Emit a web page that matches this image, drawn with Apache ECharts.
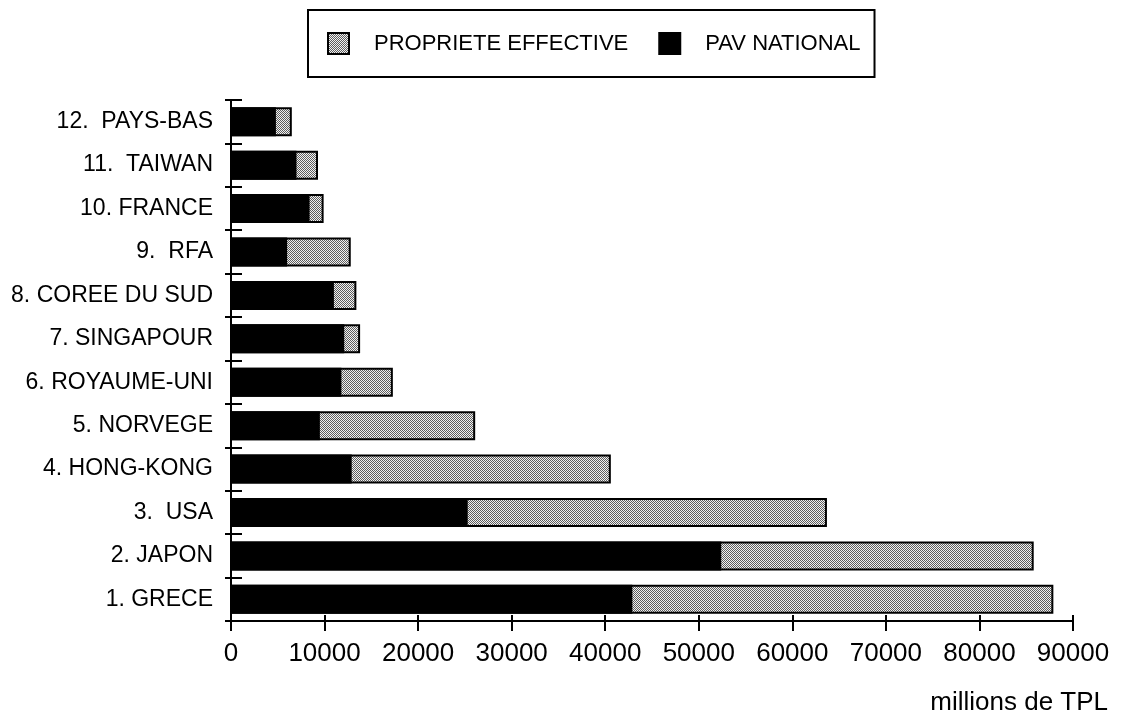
<!DOCTYPE html>
<html>
<head>
<meta charset="utf-8">
<script src="https://cdn.jsdelivr.net/npm/echarts@6/dist/echarts.min.js"></script>
<style>
  html, body { margin: 0; padding: 0; background: #fff; }
  #chart { width: 1123px; height: 718px; }
</style>
</head>
<body>
<div id="chart"></div>
<script>
// Fleets by country, bottom (1) to top (12)
const countries = [
  '1. GRECE', '2. JAPON', '3.  USA', '4. HONG-KONG', '5. NORVEGE',
  '6. ROYAUME-UNI', '7. SINGAPOUR', '8. COREE DU SUD', '9.  RFA',
  '10. FRANCE', '11.  TAIWAN', '12.  PAYS-BAS'
];
// Tonnage under the national flag
const pavNational = [42900, 52400, 25300, 12900, 9500, 11800, 12100, 11000, 6000, 8400, 7000, 4800];
// Tonnage by effective ownership
const proprieteEffective = [87900, 85800, 63700, 40600, 26100, 17300, 13800, 13400, 12800, 9900, 9300, 6500];
const xTicks = [0, 10000, 20000, 30000, 40000, 50000, 60000, 70000, 80000, 90000];

// Dotted grey fill
function dotPattern() {
  const c = document.createElement('canvas');
  c.width = 2; c.height = 2;
  const g = c.getContext('2d');
  g.fillStyle = '#f2f2f2'; g.fillRect(0, 0, 2, 2);
  g.fillStyle = '#5e5e5e';
  g.fillRect(0, 0, 1, 1);
  g.fillRect(1, 1, 1, 1);
  return { image: c, repeat: 'repeat' };
}
const grey = dotPattern();
const FONT = '"Liberation Sans", Arial, Helvetica, sans-serif';

const chart = echarts.init(document.getElementById('chart'), null, { renderer: 'canvas' });
const xMin = xTicks[0], xMax = xTicks[xTicks.length - 1], xStep = xTicks[1] - xTicks[0];

chart.setOption({
  animation: false,
  backgroundColor: '#fff',
  legend: {
    left: 308, top: 10,
    padding: [22, 14, 22, 19],
    borderColor: '#000', borderWidth: 2,
    itemWidth: 21, itemHeight: 21, itemGap: 30,
    icon: 'rect',
    textStyle: { fontFamily: FONT, fontSize: 22, color: '#000', padding: [0, 0, 0, 20] },
    data: ['PROPRIETE EFFECTIVE', 'PAV NATIONAL']
  },
  grid: { left: 231, right: 50, top: 100, bottom: 97, containLabel: false },
  xAxis: [
    {
      type: 'value', min: xMin, max: xMax, interval: xStep,
      axisLine: { show: true, lineStyle: { color: '#000', width: 2 } },
      axisTick: { show: true, length: 10, lineStyle: { color: '#000', width: 2 } },
      splitLine: { show: false },
      axisLabel: {
        fontFamily: FONT, fontSize: 26, color: '#000', margin: 20,
        formatter: v => String(v)
      }
    },
    {
      type: 'value', min: xMin, max: xMax, interval: xStep, position: 'bottom',
      axisLine: { show: false },
      axisTick: { show: true, inside: true, length: 6, lineStyle: { color: '#000', width: 2 } },
      splitLine: { show: false }, axisLabel: { show: false }
    }
  ],
  yAxis: [
    {
      type: 'category', data: countries,
      axisLine: { show: true, lineStyle: { color: '#000', width: 2 } },
      axisTick: { show: true, length: 6, lineStyle: { color: '#000', width: 2 } },
      axisLabel: { fontFamily: FONT, fontSize: 23, color: '#000', margin: 18 }
    },
    {
      type: 'category', data: countries, position: 'left',
      axisLine: { show: false },
      axisTick: { show: true, inside: true, length: 11, lineStyle: { color: '#000', width: 2 } },
      axisLabel: { show: false }
    }
  ],
  graphic: [{
    type: 'text', right: 15, top: 690,
    style: { text: 'millions de TPL', font: '26px ' + FONT, fill: '#000' }
  }],
  series: [
    {
      name: 'PROPRIETE EFFECTIVE', type: 'bar', data: proprieteEffective,
      barWidth: 29, barGap: '-100%',
      itemStyle: { color: grey, borderColor: '#000', borderWidth: 2 }
    },
    {
      name: 'PAV NATIONAL', type: 'bar', data: pavNational,
      barWidth: 29, barGap: '-100%',
      itemStyle: { color: '#000', borderColor: '#000', borderWidth: 2 }
    }
  ]
});
</script>
</body>
</html>
